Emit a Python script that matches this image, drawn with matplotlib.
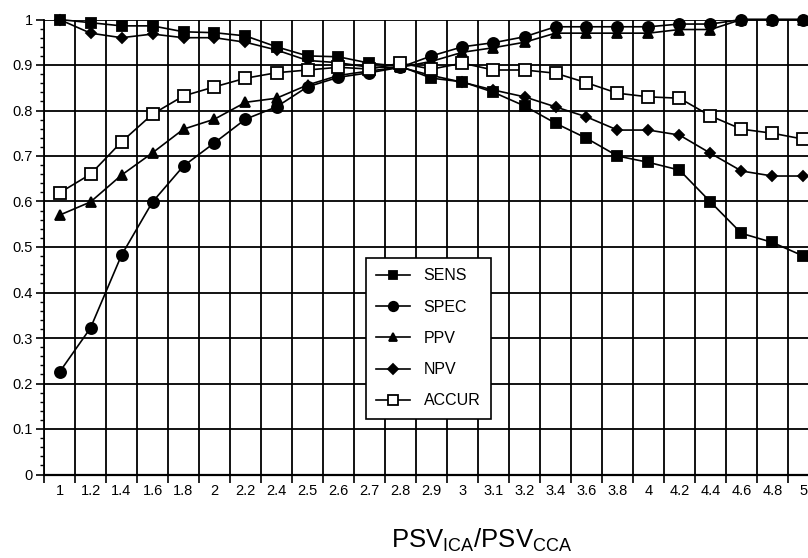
import numpy as np
import matplotlib
matplotlib.use("Agg")
import matplotlib.pyplot as plt
from matplotlib.ticker import FixedLocator, NullFormatter

plt.rcParams["font.family"] = ["Liberation Sans", "DejaVu Sans"]
plt.rcParams["mathtext.default"] = "regular"

ratios = ["1", "1.2", "1.4", "1.6", "1.8", "2", "2.2", "2.4", "2.5", "2.6", "2.7", "2.8",
          "2.9", "3", "3.1", "3.2", "3.4", "3.6", "3.8", "4", "4.2", "4.4", "4.6", "4.8", "5"]

sens = [1.0, 0.993, 0.986, 0.986, 0.973, 0.971, 0.964, 0.94, 0.92, 0.918, 0.904, 0.897,
        0.871, 0.863, 0.84, 0.81, 0.772, 0.739, 0.70, 0.686, 0.669, 0.599, 0.53, 0.51, 0.48]
spec = [0.225, 0.322, 0.482, 0.599, 0.678, 0.729, 0.781, 0.808, 0.852, 0.873, 0.883, 0.895,
        0.92, 0.94, 0.949, 0.962, 0.984, 0.984, 0.984, 0.984, 0.99, 0.99, 1.0, 1.0, 1.0]
ppv = [0.57, 0.599, 0.658, 0.707, 0.759, 0.781, 0.818, 0.827, 0.856, 0.877, 0.887, 0.895,
       0.908, 0.928, 0.938, 0.95, 0.97, 0.97, 0.97, 0.97, 0.978, 0.978, 1.0, 1.0, 1.0]
npv = [1.0, 0.97, 0.96, 0.968, 0.96, 0.96, 0.95, 0.933, 0.91, 0.905, 0.895, 0.895,
       0.877, 0.862, 0.845, 0.83, 0.808, 0.786, 0.757, 0.757, 0.746, 0.706, 0.667, 0.656, 0.656]
accur = [0.619, 0.66, 0.731, 0.792, 0.832, 0.852, 0.871, 0.883, 0.889, 0.895, 0.891, 0.904,
         0.891, 0.904, 0.889, 0.889, 0.882, 0.861, 0.838, 0.83, 0.827, 0.788, 0.759, 0.75, 0.737]
y_labels = ["0", "0.1", "0.2", "0.3", "0.4", "0.5", "0.6", "0.7", "0.8", "0.9", "1"]

fig = plt.figure(figsize=(8.08, 5.58), dpi=100, facecolor="white")
# the original is cropped on the right, so the axes run past the figure edge
ax = fig.add_axes([44 / 808, 83.5 / 558, 775 / 808, 455 / 558])

x = np.arange(len(ratios))
series = [
    (sens, "SENS", "s", "black", 7),
    (spec, "SPEC", "o", "black", 8),
    (ppv, "PPV", "^", "black", 7.5),
    (npv, "NPV", "D", "black", 5.5),
    (accur, "ACCUR", "s", "white", 8),
]
for vals, name, mk, face, ms in series:
    ax.plot(x, vals, color="black", lw=1.2, marker=mk, markersize=ms,
            markerfacecolor=face, markeredgecolor="black", markeredgewidth=1.3,
            label=name, clip_on=False, zorder=3)

ax.set_xlim(-0.5, len(ratios) - 0.5)
ax.set_ylim(0, 1)

# gridlines at the category boundaries, labels at the centres
ax.xaxis.set_major_locator(FixedLocator(np.arange(len(ratios) + 1) - 0.5))
ax.xaxis.set_major_formatter(NullFormatter())
ax.set_xticks(x, ratios, minor=True)
ax.tick_params(axis="x", which="major", direction="out", length=6, width=1.2)
ax.tick_params(axis="x", which="minor", length=0, pad=7, labelsize=10.5)
for lbl in ax.get_xticklabels(minor=True):
    lbl.set_family(["Liberation Sans Narrow", "Liberation Sans"])

ax.set_yticks(np.linspace(0, 1, 11), y_labels)
ax.yaxis.set_minor_locator(FixedLocator(np.arange(0, 1.001, 0.02)))
ax.tick_params(axis="y", which="major", direction="out", length=6, width=1.2, labelsize=10.5, pad=2)
ax.tick_params(axis="y", which="minor", direction="out", length=3, width=1)

ax.grid(True, which="major", color="black", lw=1.3)
for side in ["top", "right"]:
    ax.spines[side].set_visible(False)
ax.spines["left"].set_linewidth(1.3)
ax.spines["bottom"].set_linewidth(1.6)

leg = ax.legend(loc="upper left", bbox_to_anchor=(0.4155, 0.476), borderaxespad=0,
                fancybox=False, framealpha=1, edgecolor="black", fontsize=11.5,
                handlelength=2.1, labelspacing=1.02, borderpad=0.65, handletextpad=0.85,
                markerscale=0.85)
leg.get_frame().set_linewidth(1.2)
leg.set_zorder(5)

fig.text(482 / 808, 18 / 558, r"PSV$_{ICA}$/PSV$_{CCA}$", fontsize=18.5,
         ha="center", va="center")

fig.savefig("out.png", dpi=100)
